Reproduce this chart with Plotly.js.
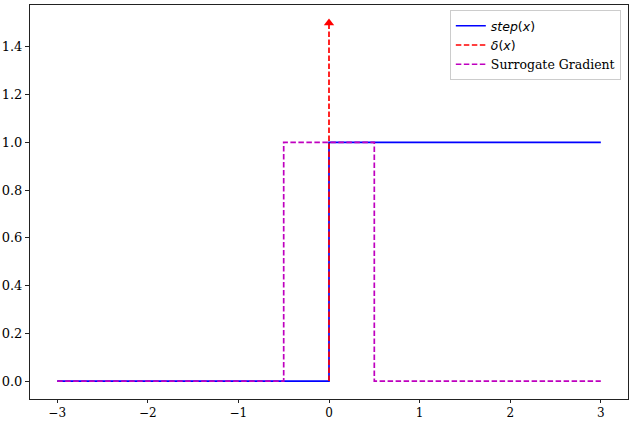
<!DOCTYPE html>
<html>
<head>
<meta charset="utf-8">
<script src="https://cdn.plot.ly/plotly-3.0.1.min.js"></script>
<style>
  html, body { margin: 0; padding: 0; background: #fff; }
  #chart { width: 632px; height: 421px; }
</style>
</head>
<body>
<div id="chart"></div>
<script>
    // step function
    var stepX = [-3, 0, 0, 3];
    var stepY = [0, 0, 1, 1];

    // dirac delta drawn as an arrow at x = 0
    var deltaX = [0, 0];
    var deltaY = [0, 1.5];

    // rectangular surrogate gradient on [-0.5, 0.5]
    var surrX = [-3, -0.5, -0.5, 0.5, 0.5, 3];
    var surrY = [0, 0, 1, 1, 0, 0];

    var xTicks = [-3, -2, -1, 0, 1, 2, 3];
    var yTicks = [0, 0.2, 0.4, 0.6, 0.8, 1.0, 1.2, 1.4];

    var mathFont = "font-family:'DejaVu Sans'";

    var traces = [
        {
            x: stepX, y: stepY,
            type: 'scatter', mode: 'lines',
            name: '<span style="' + mathFont + '"><i>step</i>(<i>x</i>)</span>',
            line: { color: '#0000ff', width: 1.7 }
        },
        {
            x: deltaX, y: deltaY,
            type: 'scatter', mode: 'lines',
            name: '<span style="' + mathFont + '"><i>δ</i>(<i>x</i>)</span>',
            line: { color: '#ff0000', width: 1.7, dash: '5.5px,2.5px' }
        },
        {
            x: surrX, y: surrY,
            type: 'scatter', mode: 'lines',
            name: 'Surrogate Gradient',
            line: { color: '#bf00bf', width: 1.7, dash: '5.5px,2.5px' }
        },
        {
            // arrow head on top of the delta
            x: [deltaX[1]], y: [deltaY[1]],
            type: 'scatter', mode: 'markers',
            showlegend: false, hoverinfo: 'skip',
            marker: { symbol: 'triangle-up', size: 9, color: '#ff0000', line: { width: 0 } }
        }
    ];

    var axisCommon = {
        showgrid: false,
        zeroline: false,
        showline: true,
        mirror: true,
        linecolor: '#222',
        linewidth: 1,
        ticks: 'outside',
        ticklen: 4,
        tickwidth: 1,
        tickcolor: '#222',
        tickfont: { family: 'DejaVu Serif', size: 13, color: '#000' }
    };

    var layout = {
        width: 632,
        height: 421,
        margin: { t: 5, r: 4, b: 22, l: 30 },
        paper_bgcolor: '#fff',
        plot_bgcolor: '#fff',
        showlegend: true,
        font: { family: 'DejaVu Serif', size: 12.5, color: '#000' },
        xaxis: Object.assign({}, axisCommon, {
            range: [-3.3, 3.3],
            ticklen: 3,
            tickfont: { family: 'DejaVu Serif', size: 12, color: '#000' },
            tickvals: xTicks,
            ticktext: xTicks.map(function (v) { return v < 0 ? '\u2212' + Math.abs(v) : String(v); })
        }),
        yaxis: Object.assign({}, axisCommon, {
            range: [-0.075, 1.575],
            tickvals: yTicks,
            ticktext: yTicks.map(function (v) { return v.toFixed(1); })
        }),
        legend: {
            x: 0.988, y: 0.987,
            xanchor: 'right', yanchor: 'top',
            bgcolor: 'rgba(255,255,255,0.8)',
            bordercolor: '#ccc',
            borderwidth: 1,
            font: { family: 'DejaVu Serif', size: 12.5, color: '#000' },
            tracegroupgap: 0
        }
    };

    Plotly.newPlot('chart', traces, layout, { displayModeBar: false, staticPlot: true });
</script>
</body>
</html>
